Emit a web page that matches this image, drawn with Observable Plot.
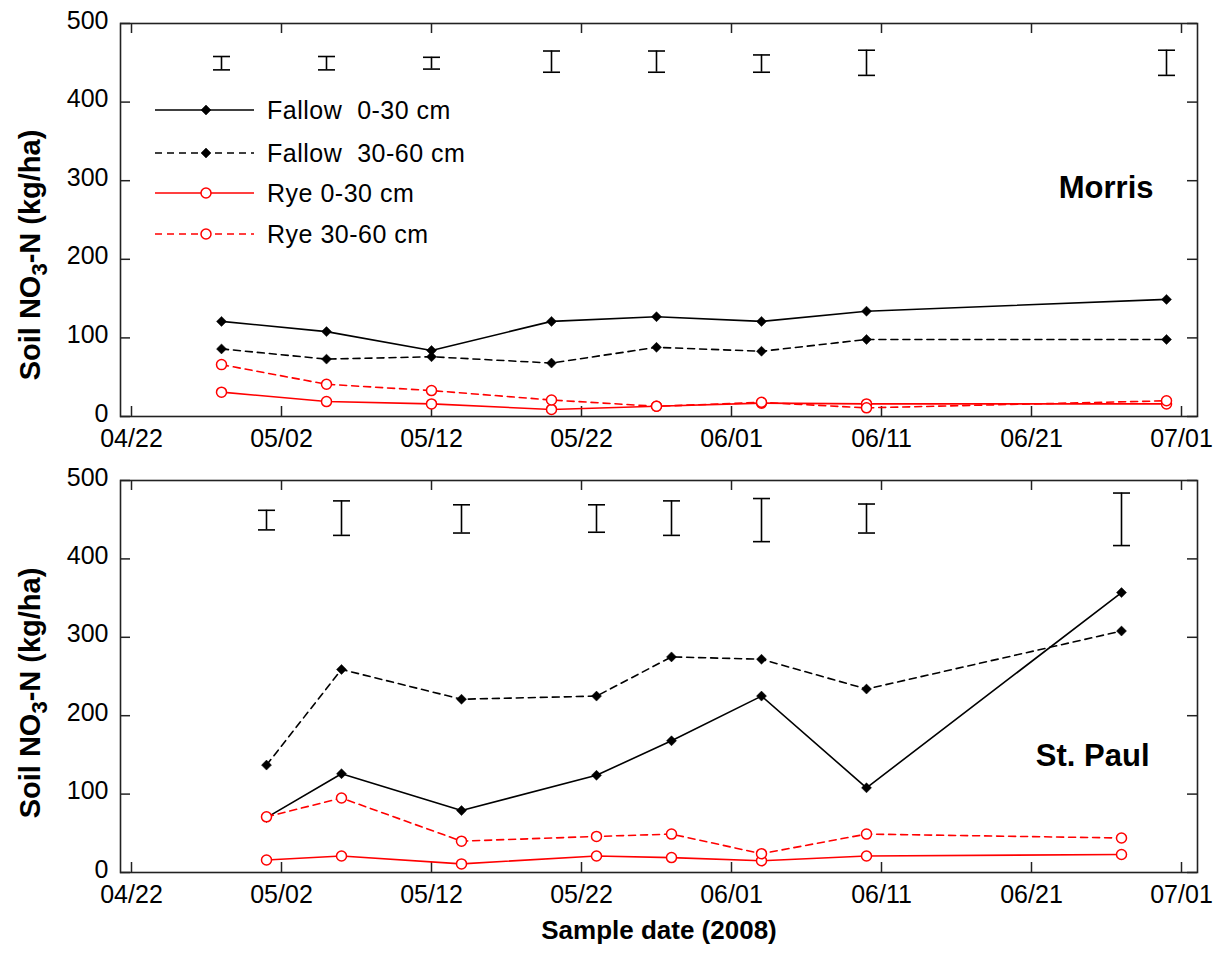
<!DOCTYPE html>
<html><head><meta charset="utf-8">
<script src="https://cdn.jsdelivr.net/npm/d3@7"></script>
<script src="https://cdn.jsdelivr.net/npm/@observablehq/plot@0.6"></script>
<style>
body{margin:0;background:#fff;}
#chart{width:1216px;height:954px;position:relative;background:#fff;}
#chart svg{display:block;}
</style></head><body><div id="chart"></div>
<script>
// ---- data ----
const seriesNames = ["Fallow  0-30 cm", "Fallow  30-60 cm", "Rye 0-30 cm", "Rye 30-60 cm"];

const morrisDates = ["2008-04-28","2008-05-05","2008-05-12","2008-05-20","2008-05-27","2008-06-03","2008-06-10","2008-06-30"];
const morrisFallow030 = [121, 108, 84, 121, 127, 121, 134, 149];
const morrisFallow3060 = [86, 73, 76, 68, 88, 83, 98, 98];
const morrisRye030 = [31, 19, 16, 9, 13, 17, 16, 16];
const morrisRye3060 = [66, 41, 33, 21, 13, 18, 11, 20];
const morrisErrLow = [441, 441, 442, 438, 438, 438, 434, 434];
const morrisErrHigh = [458, 458, 457, 465, 465, 460, 466, 466];

const stpaulDates = ["2008-05-01","2008-05-06","2008-05-14","2008-05-23","2008-05-28","2008-06-03","2008-06-10","2008-06-27"];
const stpaulFallow030 = [70, 126, 79, 124, 168, 225, 108, 357];
const stpaulFallow3060 = [137, 259, 221, 225, 275, 272, 234, 308];
const stpaulRye030 = [16, 21, 11, 21, 19, 15, 21, 23];
const stpaulRye3060 = [71, 95, 40, 46, 49, 24, 49, 44];
const stpaulErrLow = [437, 430, 433, 434, 430, 422, 433, 417];
const stpaulErrHigh = [462, 474, 469, 469, 474, 477, 470, 484];

const xTickLabels = ["04/22","05/02","05/12","05/22","06/01","06/11","06/21","07/01"];
const yTicks = [0, 100, 200, 300, 400, 500];

// ---- helpers ----
const parseDay = d3.utcParse("%Y-%m-%d");
const parseTick = d3.utcParse("%m/%d/%Y");
const tickDates = xTickLabels.map(l => parseTick(`${l}/2008`));
const xDomain = [new Date(Date.UTC(2008, 3, 21, 6, 24)), new Date(Date.UTC(2008, 6, 2, 1, 36))];
const FONT = "'Liberation Sans', Arial, sans-serif";
const styles = [
  {stroke: "#000", dash: null, symbol: "diamond2", fill: "#000", r: 4.5},
  {stroke: "#000", dash: "7,5", symbol: "diamond2", fill: "#000", r: 4.5},
  {stroke: "#ff0000", dash: null, symbol: "circle", fill: "#fff", r: 5},
  {stroke: "#ff0000", dash: "7,5", symbol: "circle", fill: "#fff", r: 5}
];
const capSymbol = {draw(ctx) { ctx.moveTo(-8.5, 0); ctx.lineTo(8.5, 0); }};

function panel({dates, series, errLo, errHi, site, siteDx, siteDy, height, marginTop, marginBottom, extra = []}) {
  const W = 1216, mL = 120, mR = 19;
  const innerW = W - mL - mR, innerH = height - marginTop - marginBottom;
  const rows = series.flatMap((vals, i) => dates.map((d, j) => ({date: parseDay(d), value: vals[j], s: i})));
  const errs = dates.map((d, j) => ({date: parseDay(d), lo: errLo[j], hi: errHi[j]}));
  const lines = styles.map((st, i) => Plot.line(rows.filter(r => r.s === i), {
    x: "date", y: "value", stroke: st.stroke, strokeWidth: 1.6,
    ...(st.dash ? {strokeDasharray: st.dash} : {})
  }));
  const dots = styles.map((st, i) => Plot.dot(rows.filter(r => r.s === i), {
    x: "date", y: "value", symbol: st.symbol, r: st.r, fill: st.fill, stroke: st.stroke,
    strokeWidth: st.symbol === "circle" ? 1.5 : 0.5
  }));
  return Plot.plot({
    width: W, height, marginLeft: mL, marginRight: mR, marginTop, marginBottom,
    x: {type: "utc", domain: xDomain},
    y: {domain: [0, 500]},
    style: {fontFamily: FONT, color: "#000", background: "#fff", overflow: "visible"},
    marks: [
      Plot.tickX(tickDates, {x: d => d, insetTop: innerH - 10, stroke: "#222", strokeWidth: 1.5}),
      Plot.tickX(tickDates, {x: d => d, insetBottom: innerH - 10, stroke: "#222", strokeWidth: 1.5}),
      Plot.tickY(yTicks, {y: d => d, insetRight: innerW - 10, stroke: "#222", strokeWidth: 1.5}),
      Plot.tickY(yTicks, {y: d => d, insetLeft: innerW - 10, stroke: "#222", strokeWidth: 1.5}),
      Plot.axisX({ticks: tickDates, tickFormat: d3.utcFormat("%m/%d"), tickSize: 0, tickPadding: 13, fontSize: 25, label: null}),
      Plot.axisY({ticks: yTicks, tickSize: 0, tickPadding: 12, dy: -3, fontSize: 25, label: null}),
      Plot.ruleX(errs, {x: "date", y1: "lo", y2: "hi", stroke: "#000", strokeWidth: 1.6}),
      Plot.dot(errs, {x: "date", y: "lo", symbol: capSymbol, stroke: "#000", fill: "none", strokeWidth: 1.6}),
      Plot.dot(errs, {x: "date", y: "hi", symbol: capSymbol, stroke: "#000", fill: "none", strokeWidth: 1.6}),
      ...lines,
      ...dots,
      Plot.text([site], {text: d => d, frameAnchor: "top-right", dx: siteDx, dy: siteDy, fontSize: 31, fontWeight: "bold", textAnchor: "end", fill: "#000"}),
      ...extra,
      Plot.frame({stroke: "#222", strokeWidth: 1.6})
    ]
  });
}

function addYTitle(svg, cy) {
  const t = d3.select(svg).append("text")
    .attr("transform", `translate(40,${cy}) rotate(-90)`)
    .attr("text-anchor", "middle")
    .attr("font-family", FONT).attr("font-weight", "bold").attr("font-size", 29).attr("fill", "#000");
  t.append("tspan").text("Soil NO");
  t.append("tspan").attr("font-size", 22).attr("dy", 7).text("3");
  t.append("tspan").attr("dy", -7).text("-N (kg/ha)");
}

function addLegend(svg) {
  const g = d3.select(svg).append("g").attr("font-family", FONT).attr("font-size", 25).attr("text-anchor", "start");
  const ys = [110, 153, 193, 234];
  styles.forEach((st, i) => {
    const y = ys[i];
    g.append("line").attr("x1", 155).attr("x2", 254).attr("y1", y).attr("y2", y)
      .attr("stroke", st.stroke).attr("stroke-width", 1.6).attr("stroke-dasharray", st.dash);
    const sym = d3.symbol(st.symbol === "circle" ? d3.symbolCircle : d3.symbolDiamond2, Math.PI * st.r * st.r);
    g.append("path").attr("d", sym()).attr("transform", `translate(206,${y})`)
      .attr("fill", st.fill).attr("stroke", st.stroke).attr("stroke-width", st.symbol === "circle" ? 1.5 : 0.5);
    g.append("text").attr("x", 267).attr("y", y).attr("dy", "0.35em").attr("text-anchor", "start")
      .attr("fill", "#000").attr("letter-spacing", 0.5).text(seriesNames[i]);
  });
}

const chartEl = document.getElementById("chart");

const topPanel = panel({
  dates: morrisDates,
  series: [morrisFallow030, morrisFallow3060, morrisRye030, morrisRye3060],
  errLo: morrisErrLow, errHi: morrisErrHigh,
  site: "Morris", siteDx: -44, siteDy: 152,
  height: 460, marginTop: 23, marginBottom: 44
});
addYTitle(topPanel, 255);
addLegend(topPanel);
chartEl.appendChild(topPanel);

const bottomPanel = panel({
  dates: stpaulDates,
  series: [stpaulFallow030, stpaulFallow3060, stpaulRye030, stpaulRye3060],
  errLo: stpaulErrLow, errHi: stpaulErrHigh,
  site: "St. Paul", siteDx: -48, siteDy: 263,
  height: 494, marginTop: 20, marginBottom: 82,
  extra: [Plot.text(["Sample date (2008)"], {text: d => d, frameAnchor: "bottom", dy: 66, fontSize: 26, fontWeight: "bold", fill: "#000"})]
});
addYTitle(bottomPanel, 233);
chartEl.appendChild(bottomPanel);
</script></body></html>
